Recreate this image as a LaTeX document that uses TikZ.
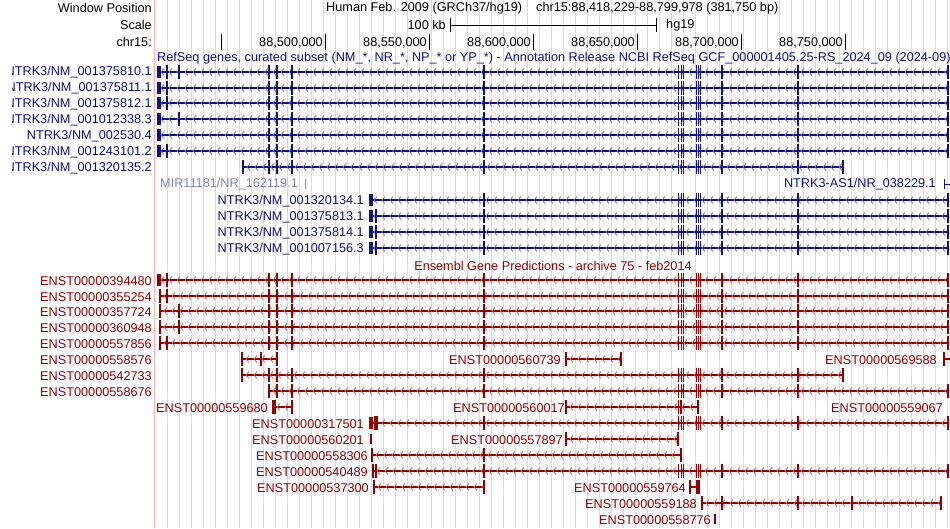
\documentclass[tikz,border=0pt]{standalone}
\usepackage{fontspec}
\setmainfont{Liberation Sans}
\definecolor{refblue}{RGB}{16,16,122}
\definecolor{mirblue}{RGB}{130,130,190}
\definecolor{ensred}{RGB}{145,0,0}
\definecolor{gridblue}{RGB}{214,214,250}
\definecolor{edgepink}{RGB}{255,180,180}
% one transcript: y, start, end, exon ticks, colour
\newcommand{\tx}[5]{%
  \draw[#5, line width=1.1] (#2,#1) -- (#3,#1);
  \pgfmathtruncatemacro\nchev{(#3-#2-6)/8}
  \ifnum\nchev>0
    \foreach \k in {0,...,\nchev} \draw[#5!60, line width=0.8] (#2+7+8*\k,#1-3.5) -- (#2+4+8*\k,#1) -- (#2+7+8*\k,#1+3.5);
  \fi
  \foreach \e in {#4} \draw[#5, line width=1.2] (\e,#1-7) -- (\e,#1+7);
}
% shared exons of the long transcripts
\newcommand{\core}[2]{%
  \foreach \e in {484,722} \draw[#2, line width=1.2] (\e,#1-7) -- (\e,#1+7);
  \foreach \e in {678.5,681,683.5,696.5,698.7,700.9} \draw[#2, line width=0.9] (\e,#1-7) -- (\e,#1+7);
  \draw[#2, line width=2.2] (798,#1-7) -- (798,#1+7);
}
\newcommand{\first}[2]{\foreach \e in {269,277,292} \draw[#2, line width=1.2] (\e,#1-7) -- (\e,#1+7);}
\newcommand{\blk}[3]{\fill[#3] (#2,#1-6) rectangle ++(4,12);}
\begin{document}
\begin{tikzpicture}[x=1pt, y=-1pt,
    every node/.style={font=\fontsize{12.7}{14}\selectfont, inner sep=0pt},
    lbl/.style={anchor=east},
    reflbl/.style={lbl, refblue},
    enslbl/.style={lbl, ensred}]
  \useasboundingbox (0,0) rectangle (950,528);
  \clip (0,0) rectangle (950,528);
  % --- grid ---
  \foreach \g in {0,...,65} \draw[gridblue, line width=0.8] (167+12*\g,0) -- (167+12*\g,528);
  \draw[edgepink, line width=1] (154,0) -- (154,528);

  % --- header ---
  \node[anchor=east] (winpos) at (152,8) {Window Position};
  \node[anchor=east] (scl) at (152,25) {Scale};
  \node[anchor=east] (chrom) at (152,42) {chr15:};
  \node[anchor=west] (title) at (326,8) {Human Feb. 2009 (GRCh37/hg19)\hspace{1.1em}chr15:88,418,229-88,799,978 (381,750 bp)};
  \node[anchor=east] (kb) at (446,25) {100 kb};
  \node[anchor=west] (hg) at (666,25) {hg19};
  \draw (450,18) -- (450,32) (450,25) -- (656,25) (656,18) -- (656,32);
  \foreach \t/\l in {325/{88,500,000}, 429/{88,550,000}, 533/{88,600,000}, 637/{88,650,000}, 741/{88,700,000}, 845/{88,750,000}}
    \node[anchor=east] at (\t-2,43) {\l};
  \foreach \t in {221,325,429,533,637,741,845} \draw (\t,34) -- (\t,50);

  % --- RefSeq track ---
  \node[anchor=west, refblue] (rstitle) at (157,58) {RefSeq genes, curated subset (NM\_*, NR\_*, NP\_* or YP\_*) - Annotation Release NCBI RefSeq GCF\_000001405.25-RS\_2024\_09 (2024-09)};
  \begin{scope}
    \clip (12,60) rectangle (153,175);
    \node[reflbl] (r1) at (152,72) {NTRK3/NM\_001375810.1};
    \node[reflbl] (r2) at (152,88) {NTRK3/NM\_001375811.1};
    \node[reflbl] (r3) at (152,104) {NTRK3/NM\_001375812.1};
    \node[reflbl] (r4) at (152,120) {NTRK3/NM\_001012338.3};
    \node[reflbl] (r5) at (152,136) {NTRK3/NM\_002530.4};
    \node[reflbl] (r6) at (152,152) {NTRK3/NM\_001243101.2};
    \node[reflbl] (r7) at (152,168) {NTRK3/NM\_001320135.2};
  \end{scope}
  \tx{72}{157}{948}{167,179,948}{refblue}\blk{72}{157}{refblue}\first{72}{refblue}\core{72}{refblue}
  \tx{88}{157}{948}{167,948}{refblue}\blk{88}{157}{refblue}\first{88}{refblue}\core{88}{refblue}
  \tx{103}{157}{948}{167,948}{refblue}\blk{103}{157}{refblue}\first{103}{refblue}\core{103}{refblue}
  \tx{119}{157}{948}{179,948}{refblue}\blk{119}{157}{refblue}\first{119}{refblue}\core{119}{refblue}
  \tx{135}{157}{948}{948}{refblue}\blk{135}{157}{refblue}\first{135}{refblue}\core{135}{refblue}
  \tx{151}{157}{948}{167,948}{refblue}\blk{151}{157}{refblue}\first{151}{refblue}\core{151}{refblue}
  \tx{167}{243}{843}{243,843}{refblue}\first{167}{refblue}\core{167}{refblue}
  \node[anchor=west, mirblue] (mir) at (160,184) {MIR11181/NR\_162119.1};
  \draw[mirblue] (305,179) -- (305,189);
  \node[reflbl] (as1) at (936,184) {NTRK3-AS1/NR\_038229.1};
  \draw[refblue] (944,179) -- (944,189) (944,184) -- (950,184);
  \foreach \y/\n in {200/NM\_001320134.1, 216/NM\_001375813.1, 232/NM\_001375814.1, 248/NM\_001007156.3} {
    \node[reflbl] at (364,\y+1) {NTRK3/\n};
    \tx{\y}{370}{948}{948}{refblue}\blk{\y}{369}{refblue}\core{\y}{refblue}
  }
  \foreach \y in {216,232,248} \draw[refblue, line width=1.1] (376,\y-7) -- (376,\y+7);

  % --- Ensembl track ---
  \node[ensred] (enstitle) at (553,266) {Ensembl Gene Predictions - archive 75 - feb2014};
  \node[enslbl] (e1) at (152,281) {ENST00000394480};
  \tx{280}{157}{948}{167,948}{ensred}\blk{280}{157}{ensred}\first{280}{ensred}\core{280}{ensred}
  \node[enslbl] (e2) at (152,297) {ENST00000355254};
  \tx{296}{160}{948}{160,167,948}{ensred}\first{296}{ensred}\core{296}{ensred}
  \node[enslbl] (e3) at (152,312) {ENST00000357724};
  \tx{311}{160}{948}{160,179,948}{ensred}\first{311}{ensred}\core{311}{ensred}
  \node[enslbl] (e4) at (152,328) {ENST00000360948};
  \tx{327}{160}{948}{160,179,948}{ensred}\first{327}{ensred}\core{327}{ensred}
  \node[enslbl] (e5) at (152,344) {ENST00000557856};
  \tx{343}{160}{948}{160,167,948}{ensred}\first{343}{ensred}\core{343}{ensred}
  \node[enslbl] (e6) at (152,360) {ENST00000558576};
  \tx{359}{242}{277}{242,261,277}{ensred}
  \node[enslbl] (e6b) at (561,360) {ENST00000560739};
  \tx{359}{566}{621}{566,621}{ensred}
  \node[enslbl] (e6c) at (937,360) {ENST00000569588};
  \tx{359}{944}{950}{944}{ensred}
  \node[enslbl] (e7) at (152,376) {ENST00000542733};
  \tx{375}{242}{843}{242,843}{ensred}\first{375}{ensred}\core{375}{ensred}
  \node[enslbl] (e8) at (152,392) {ENST00000558676};
  \tx{391}{269}{948}{948}{ensred}\first{391}{ensred}\core{391}{ensred}
  \fill[ensred] (268,386) rectangle ++(2,11);
  \node[enslbl] (e9) at (268,408) {ENST00000559680};
  \tx{407}{273}{292}{273,275,292}{ensred}
  \node[enslbl] (e9b) at (565,408) {ENST00000560017};
  \tx{407}{566}{698}{566,678.5,681,698}{ensred}
  \node[enslbl] (e9c) at (943,408) {ENST00000559067};
  \node[enslbl] (e10) at (364,424) {ENST00000317501};
  \tx{423}{370}{948}{375,377,948}{ensred}\blk{423}{369}{ensred}\core{423}{ensred}
  \node[enslbl] (e11) at (364,440) {ENST00000560201};
  \draw[ensred, line width=1.1] (371,434) -- (371,444);
  \node[enslbl] (e11b) at (563,440) {ENST00000557897};
  \tx{439}{566}{678}{566,678}{ensred}
  \node[enslbl] (e12) at (368,456) {ENST00000558306};
  \tx{455}{372}{681}{372,484,681}{ensred}
  \node[enslbl] (e13) at (368,472) {ENST00000540489};
  \tx{471}{373}{948}{373,376,948}{ensred}\core{471}{ensred}
  \node[enslbl] (e14) at (369,488) {ENST00000537300};
  \tx{487}{374}{484}{374,484}{ensred}
  \node[enslbl] (e14b) at (686,488) {ENST00000559764};
  \tx{487}{690}{699}{690,697,699}{ensred}
  \node[enslbl] (e15) at (697,504) {ENST00000559188};
  \tx{503}{702}{941}{702,722,852,941}{ensred}
  \draw[ensred, line width=2.2] (798,496) -- (798,510);
  \node[enslbl] (e16) at (711,520) {ENST00000558776};
  \draw[ensred, line width=1.1] (715,514) -- (715,524);
\end{tikzpicture}
\end{document}
